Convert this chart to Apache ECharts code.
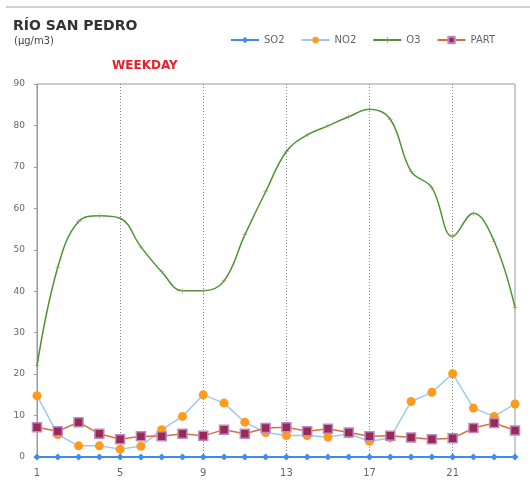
<!DOCTYPE html>
<html lang="en">
<head>
<meta charset="UTF-8">
<title>Río San Pedro</title>
<script src="https://cdn.jsdelivr.net/npm/echarts@6/dist/echarts.min.js"></script>
<style>
  html, body { margin: 0; padding: 0; background: #fff; }
  #chart { width: 530px; height: 493px; }
</style>
</head>
<body>
<div id="chart"></div>
<script>
// horas del dia
var hours = ['1','2','3','4','5','6','7','8','9','10','11','12','13','14','15','16','17','18','19','20','21','22','23','24'];
var so2 = [0,0,0,0,0,0,0,0,0,0,0,0,0,0,0,0,0,0,0,0,0,0,0,0];
var no2 = [14.8,5.4,2.7,2.7,1.9,2.6,6.6,9.8,15.0,13.0,8.4,5.9,5.2,5.2,4.8,5.6,3.8,4.6,13.4,15.6,20.1,11.8,9.8,12.8];
var o3 = [22,45.8,56.8,58.2,57.6,50.7,44.7,40.1,40.1,42.5,53.6,64,73.7,77.7,79.9,82.1,83.9,81.5,68.9,65,53.2,58.8,52,36.1];
var part = [7.2,6.2,8.4,5.6,4.3,5.0,5.0,5.6,5.1,6.6,5.6,7.0,7.2,6.2,6.8,5.9,5.0,5.1,4.7,4.3,4.5,7.0,8.2,6.4];

var myChart = echarts.init(document.getElementById('chart'));
var font = 'DejaVu Sans';
// cruz fina para los puntos de O3
var cross = 'path://M0,4.5L10,4.5L10,5.5L0,5.5Z M4.5,0L5.5,0L5.5,10L4.5,10Z';

var option = {
  backgroundColor: '#fff',
  animation: false,
  title: [
    { text: 'RÍO SAN PEDRO', left: 13, top: 19, padding: 0,
      textStyle: { fontFamily: font, fontSize: 14, fontWeight: 'bold', color: '#333' } },
    { text: '(µg/m3)', left: 14, top: 36, padding: 0,
      textStyle: { fontFamily: font, fontSize: 10, fontWeight: 'normal', color: '#444' } },
    { text: 'WEEKDAY', left: 112, top: 60, padding: 0,
      textStyle: { fontFamily: font, fontSize: 12, fontWeight: 'bold', color: '#e8202a' } }
  ],
  graphic: [
    { type: 'line', shape: { x1: 6, y1: 7, x2: 530, y2: 7 },
      style: { stroke: '#d0d0d0', lineWidth: 2 } }
  ],
  legend: {
    top: 35, left: 230, padding: 0,
    itemWidth: 28, itemHeight: 8, itemGap: 16,
    textStyle: { fontFamily: font, fontSize: 10, color: '#666' },
    data: ['SO2', 'NO2', 'O3', 'PART']
  },
  grid: {
    left: 37, right: 15, top: 84, bottom: 36,
    show: true, borderColor: '#999', borderWidth: 1
  },
  xAxis: {
    type: 'category',
    data: hours,
    boundaryGap: false,
    axisLine: { lineStyle: { color: '#999' } },
    axisTick: { show: false },
    axisLabel: { interval: 3, fontFamily: font, fontSize: 10, color: '#666', margin: 11 },
    splitLine: { show: true, interval: 3, lineStyle: { color: '#888', type: [1, 2], width: 1 } }
  },
  yAxis: {
    type: 'value',
    min: 0, max: 90, interval: 10,
    axisLine: { show: true, lineStyle: { color: '#999' } },
    axisTick: { show: true, length: 3, lineStyle: { color: '#999' } },
    axisLabel: { fontFamily: font, fontSize: 9, color: '#666', margin: 12 },
    splitLine: { show: false }
  },
  series: [
    {
      name: 'SO2', type: 'line', data: so2,
      symbol: 'diamond', symbolSize: 7,
      lineStyle: { color: '#3d8ee8', width: 2 },
      itemStyle: { color: '#3d8ee8' }
    },
    {
      name: 'NO2', type: 'line', data: no2,
      symbol: 'circle', symbolSize: 9,
      lineStyle: { color: '#9ec8f2', width: 1.5 },
      itemStyle: { color: '#ff9a1a' }
    },
    {
      name: 'O3', type: 'line', data: o3,
      smooth: 0.4, symbol: cross, symbolSize: 5,
      lineStyle: { color: '#4f9433', width: 1.5 },
      itemStyle: { color: '#a08a70' }
    },
    {
      name: 'PART', type: 'line', data: part,
      symbol: 'rect', symbolSize: 9,
      lineStyle: { color: '#d9703a', width: 1.5 },
      itemStyle: { color: '#9a2a55', borderColor: '#b98cc8', borderWidth: 1.5 }
    }
  ]
};

myChart.setOption(option);
</script>
</body>
</html>
